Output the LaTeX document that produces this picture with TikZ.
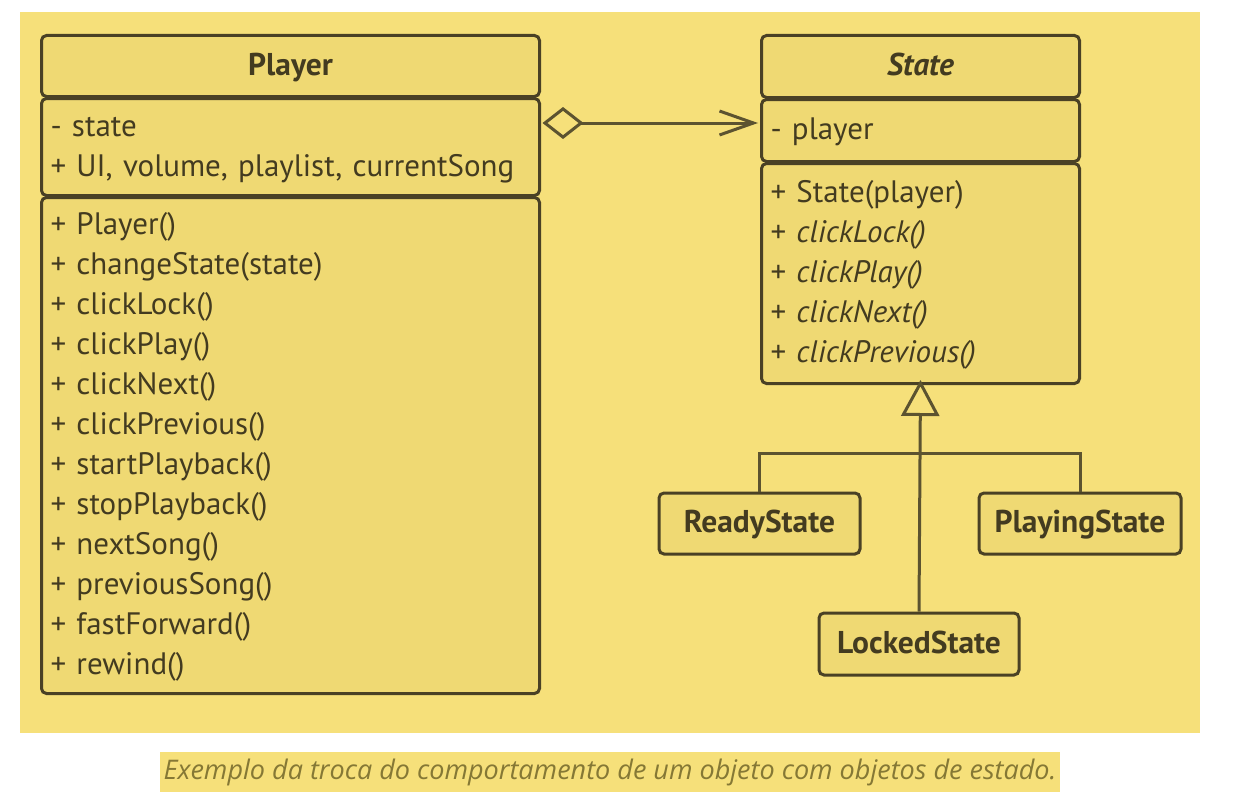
\documentclass[tikz,border=0pt]{standalone}
\usepackage{fontspec}
\setmainfont[WordSpace=0.8]{PT Sans}
\newfontfamily\capfont{Open Sans}
\usetikzlibrary{arrows.meta,calc}
\definecolor{bg}{HTML}{F6E07A}
\definecolor{boxfill}{HTML}{EFD973}
\definecolor{ln}{HTML}{4A4125}
\definecolor{conn}{HTML}{5C5330}
\definecolor{txt}{HTML}{433B20}
\definecolor{captxt}{HTML}{857835}
\newcommand\lnstrut{\rule[-8pt]{0pt}{34pt}}
\begin{document}
\begin{tikzpicture}[x=1pt,y=-1pt,
  sect/.style={draw=ln, fill=boxfill, line width=3pt, rounded corners=5pt,
    anchor=north west, inner xsep=9pt, inner ysep=0pt, text=txt,
    font=\fontsize{31}{40}\selectfont, align=left},
  headsect/.style={sect, align=center, font=\fontsize{31.5}{40}\selectfont\bfseries},
  smallbox/.style={draw=ln, fill=boxfill, line width=3pt, rounded corners=5pt,
    text=txt, font=\fontsize{31.5}{34}\selectfont\bfseries, minimum height=61pt, inner sep=0pt},
  connline/.style={draw=conn, line width=3pt}
]
\useasboundingbox (0,0) rectangle (1236,808);
\fill[white] (0,0) rectangle (1236,808);
\fill[bg] (20,12) rectangle (1200,733);

% Player class
\node[headsect, minimum width=498pt, minimum height=61pt, text width=480pt] (phead) at (40,34) {\lnstrut Player};
\node[sect, minimum width=498pt, minimum height=97pt, text width=480pt] (pattr) at (40,97)
  {\lnstrut- state\\\lnstrut+ UI, volume, playlist, currentSong};
\node[sect, minimum width=498pt, minimum height=496pt, text width=480pt] (pops) at (40,196)
  {\lnstrut+ Player()\\+ changeState(state)\\+ clickLock()\\+ clickPlay()\\+ clickNext()\\+ clickPrevious()\\+ startPlayback()\\+ stopPlayback()\\+ nextSong()\\+ previousSong()\\+ fastForward()\\\lnstrut+ rewind()};

% State class
\node[headsect, minimum width=318pt, minimum height=62pt, text width=300pt] (shead) at (760,34) {\lnstrut\itshape State};
\node[sect, minimum width=318pt, minimum height=62pt, text width=300pt] (sattr) at (760,98) {\lnstrut- player};
\node[sect, minimum width=318pt, minimum height=220pt, text width=300pt] (sops) at (760,162)
  {\lnstrut+ State(player)\\+ \textit{clickLock()}\\+ \textit{clickPlay()}\\+ \textit{clickNext()}\\\lnstrut+ \textit{clickPrevious()}};

% Concrete states
\node[smallbox, minimum width=201pt] (ready) at (759.5,523.5) {\lnstrut ReadyState};
\node[smallbox, minimum width=202pt] (playing) at (1080,523.5) {\lnstrut PlayingState};
\node[smallbox, minimum width=200pt, minimum height=62pt] (locked) at (919,644) {\lnstrut LockedState};

% Aggregation
\coordinate (a1) at ($(pattr.north east)+(1.5,26)$);
\draw[connline, line join=miter, {Diamond[open,length=41pt,width=32pt]}-{Straight Barb[length=34pt,width=24pt]}]
  (a1) -- ($(a1 -| sattr.west)+(-2,0)$);

% Inheritance
\coordinate (bar) at (919,453);
\draw[connline] (ready.north) |- (bar) -| (playing.north);
\draw[connline, line join=miter, -{Triangle[open,length=36pt,width=38pt]}] (locked.north) -- ($(sops.south)+(0,-5)$);

% Caption
\node[fill=bg, minimum width=900pt, minimum height=40pt, inner sep=0pt, text=captxt,
  font=\capfont\itshape\fontsize{27}{30}\selectfont] (cap) at (610,772)
  {Exemplo da troca do comportamento de um objeto com objetos de estado.};
\end{tikzpicture}
\end{document}
